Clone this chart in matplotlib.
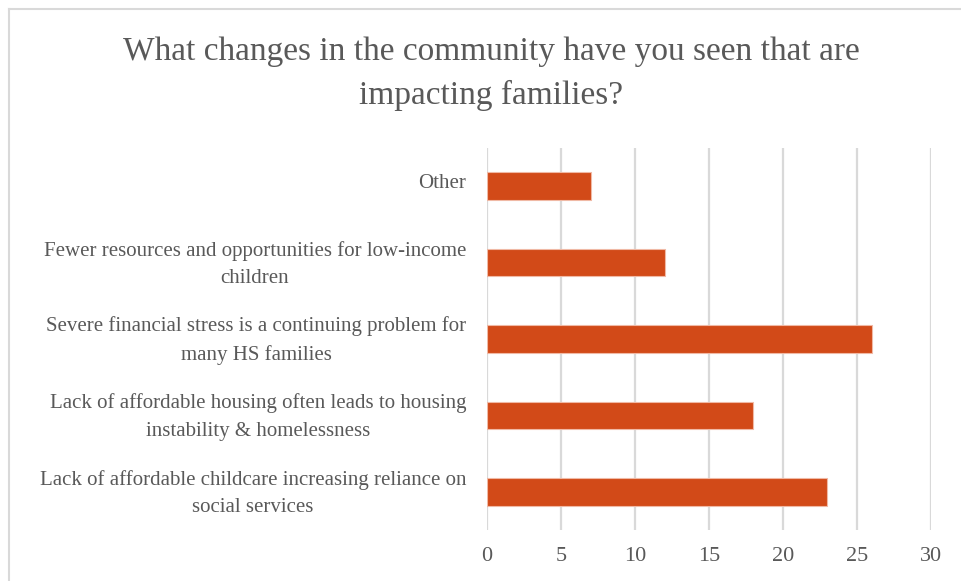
import matplotlib
matplotlib.use("Agg")
import matplotlib.pyplot as plt
import matplotlib.transforms as mtransforms
from matplotlib.lines import Line2D

categories = [
    "Lack of affordable childcare increasing reliance on\nsocial services",
    "Lack of affordable housing often leads to housing\ninstability & homelessness",
    "Severe financial stress is a continuing problem for\nmany HS families",
    "Fewer resources and opportunities for low-income\nchildren",
    "Other",
]
values = [23, 18, 26, 12, 7]
x_ticks = [0, 5, 10, 15, 20, 25, 30]
title = "What changes in the community have you seen that are\nimpacting families?"

text_color = "#595959"
bar_color = "#D24A18"
grid_color = "#D9D9D9"

plt.rcParams["font.family"] = ["Liberation Serif", "DejaVu Serif"]

W, H = 961, 581
fig = plt.figure(figsize=(W / 100, H / 100), dpi=100)
ax = fig.add_axes([487 / W, 1 - 530 / H, (931 - 487) / W, (530 - 148) / H])

ypos = list(range(len(categories)))
ax.barh(ypos, values, height=0.36, color=bar_color, edgecolor="#F0B9A5",
        linewidth=0.8, zorder=3)

ax.set_xlim(0, 30)
ax.set_ylim(-0.5, len(categories) - 0.5)
ax.set_xticks(x_ticks)
ax.set_xticklabels([str(t) for t in x_ticks])
ax.set_yticks(ypos)
ax.set_yticklabels(categories, multialignment="center", linespacing=1.6)
ax.tick_params(axis="both", length=0, colors=text_color)
ax.tick_params(axis="y", pad=15, labelsize=15)
ax.tick_params(axis="x", pad=12, labelsize=16)

# nudge category labels up slightly so they sit centred on the bars
shift = mtransforms.ScaledTranslation(0, 5 / 100, fig.dpi_scale_trans)
for lbl in ax.get_yticklabels():
    lbl.set_transform(lbl.get_transform() + shift)

ax.grid(axis="x", color=grid_color, linewidth=1.6, zorder=0)
for s in ax.spines.values():
    s.set_visible(False)

fig.text(491 / W, 1 - 74 / H, title, ha="center", va="center",
         fontsize=24, color=text_color, linespacing=1.55)

# light frame along the top and left edges
fig.add_artist(Line2D([8.5 / W, 8.5 / W], [0, 1 - 9 / H],
                      transform=fig.transFigure, color=grid_color, lw=1.5))
fig.add_artist(Line2D([8.5 / W, 1], [1 - 9 / H, 1 - 9 / H],
                      transform=fig.transFigure, color=grid_color, lw=1.5))

fig.savefig("out.png", dpi=100)
